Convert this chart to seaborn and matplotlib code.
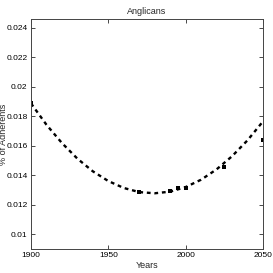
import seaborn as sns
import matplotlib
matplotlib.use("Agg")
import matplotlib.pyplot as plt
import pandas as pd

# observed shares (points)
obs_years = [1900, 1970, 1990, 1995, 2000, 2025, 2050]
obs_share = [0.01888, 0.01284, 0.01296, 0.01312, 0.01312, 0.01454, 0.01641]

# fitted trend (dashed curve)
fit_years = [1900, 1910, 1920, 1930, 1940, 1950, 1960, 1970,
             1980, 1990, 2000, 2010, 2020, 2030, 2040, 2050]
fit_share = [0.01888, 0.01743, 0.01619, 0.01513, 0.01427, 0.01361, 0.01314, 0.01286,
             0.01278, 0.01289, 0.01320, 0.01370, 0.01440, 0.01529, 0.01637, 0.01765]

yticks = [0.01, 0.012, 0.014, 0.016, 0.018, 0.02, 0.022, 0.024]
ytick_labels = ["0.01", "0.012", "0.014", "0.016", "0.018", "0.02", "0.022", "0.024"]
xticks = [1900, 1950, 2000, 2050]

sns.set_style("ticks")
plt.rcParams['font.family'] = ['Liberation Sans Narrow', 'Liberation Sans', 'DejaVu Sans']
plt.rcParams['font.size'] = 6

obs = pd.DataFrame({'year': obs_years, 'share': obs_share})
fit = pd.DataFrame({'year': fit_years, 'share': fit_share})

fig = plt.figure(figsize=(2.73, 2.73), dpi=100)
ax = fig.add_axes([0.1136, 0.088, 0.8494, 0.842])

sns.lineplot(data=fit, x='year', y='share', color='black', linewidth=1.7,
             linestyle=(0, (1.6, 1.6)), ax=ax)
sns.scatterplot(data=obs, x='year', y='share', color='black', marker='s',
                s=9, linewidth=0, ax=ax)

ax.set_xlim(1900, 2050)
ax.set_ylim(0.009, 0.0246)
ax.set_xticks(xticks)
ax.set_xticklabels([str(t) for t in xticks])
ax.set_yticks(yticks)
ax.set_yticklabels(ytick_labels)
ax.tick_params(direction='in', length=3, width=0.5, top=True, right=True,
               labelsize=6, pad=2.5, colors='black')
for sp in ax.spines.values():
    sp.set_visible(True)
    sp.set_linewidth(0.7)
    sp.set_color('#444444')

ax.set_title("Anglicans", fontsize=6.5, pad=4)
ax.set_xlabel("Years", fontsize=6.5, labelpad=1)
ax.set_ylabel("% of Adherents", fontsize=6.5)
ax.yaxis.set_label_coords(-0.1, 0.5)

fig.savefig("out.png", dpi=100)
